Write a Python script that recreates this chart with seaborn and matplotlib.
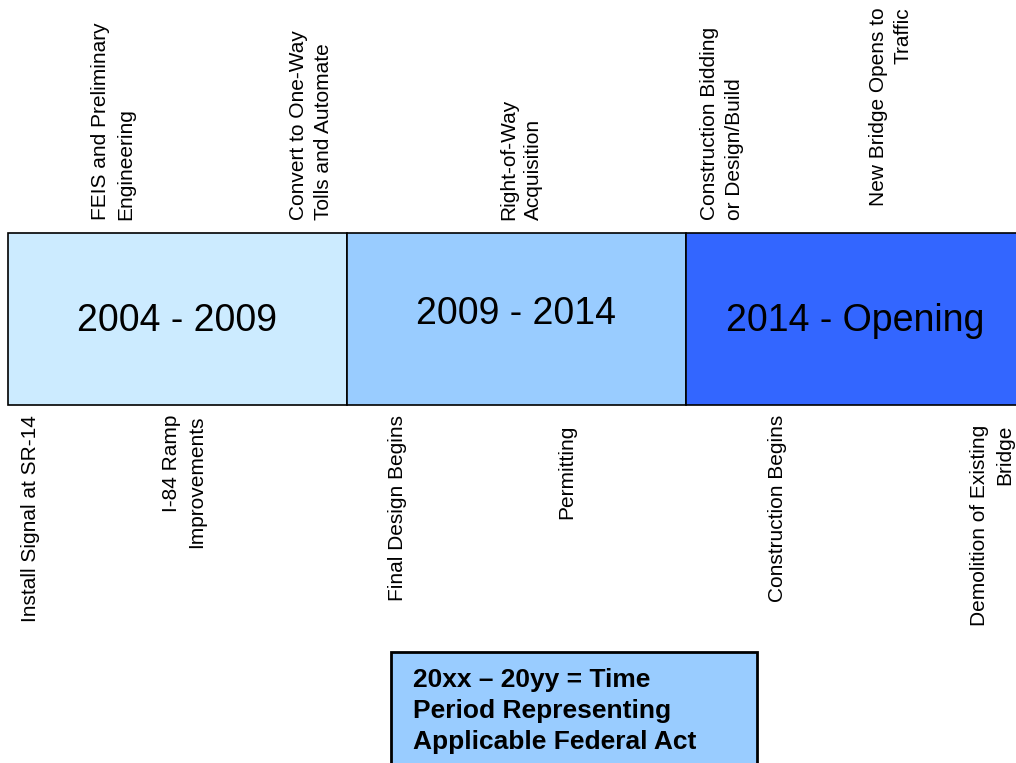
import matplotlib
matplotlib.use('Agg')
import matplotlib.pyplot as plt
import seaborn as sns
from matplotlib.patches import Rectangle

sns.set_theme(style='white')
plt.rcParams['font.family'] = ['Liberation Sans', 'DejaVu Sans']
plt.rcParams['text.color'] = 'black'

# periods on the timeline band
periods = ['2004 - 2009', '2009 - 2014', '2014 - Opening']
period_colors = ['#CCEBFF', '#99CCFF', '#3366FF']
period_label_y = [0.49, 0.53, 0.49]

# milestones above the band (position in period units, bar centres at 0, 1, 2)
top_events = ['FEIS and Preliminary\nEngineering',
              'Convert to One-Way\nTolls and Automate',
              'Right-of-Way\nAcquisition',
              'Construction Bidding\nor Design/Build',
              'New Bridge Opens to\nTraffic']
top_pos = [-0.19, 0.394, 1.013, 1.606, 2.105]

# milestones below the band
bottom_events = ['Install Signal at SR-14',
                 'I-84 Ramp\nImprovements',
                 'Final Design Begins',
                 'Permitting',
                 'Construction Begins',
                 'Demolition of Existing\nBridge']
bottom_pos = [-0.435, 0.019, 0.648, 1.149, 1.771, 2.403]

legend_text = '20xx \u2013 20yy = Time\nPeriod Representing\nApplicable Federal Act'

fig = plt.figure(figsize=(10.16, 7.63), dpi=100)
ax = fig.add_axes([0, 0, 1, 1])

sns.barplot(x=periods, y=[1] * len(periods), hue=periods, palette=period_colors,
            width=1, edgecolor='black', linewidth=1.2, saturation=1,
            legend=False, ax=ax)

for i, (lab, yy) in enumerate(zip(periods, period_label_y)):
    ax.text(i, yy, lab, ha='center', va='center', fontsize=27, color='black')

for lab, xx in zip(top_events, top_pos):
    if lab.startswith('New Bridge'):
        ax.text(xx, 2.31, lab, rotation=90, ha='center', va='top', color='black',
                multialignment='right', fontsize=15, linespacing=1.38)
    else:
        ax.text(xx, 1.076, lab, rotation=90, ha='center', va='bottom', color='black',
                multialignment='left', fontsize=15, linespacing=1.38)

for lab, xx in zip(bottom_events, bottom_pos):
    top = -0.116 if lab in ('Permitting', 'Demolition of Existing\nBridge') else -0.058
    ax.text(xx, top, lab, rotation=90, ha='center', va='top', color='black',
            multialignment='right', fontsize=15, linespacing=1.38)

# legend box at the bottom
ax.add_patch(Rectangle((0.63, -2.3), 1.08, 0.864, facecolor='#99CCFF',
                       edgecolor='black', linewidth=2, clip_on=False))
ax.text(0.695, -1.53, legend_text, ha='left', va='top', fontsize=19,
        fontweight='bold', linespacing=1.36, color='black')

ax.set_xlim(-0.5236, 2.4735)
ax.set_ylim(-2.081, 2.355)
ax.axis('off')

fig.savefig('out.png', dpi=100)
